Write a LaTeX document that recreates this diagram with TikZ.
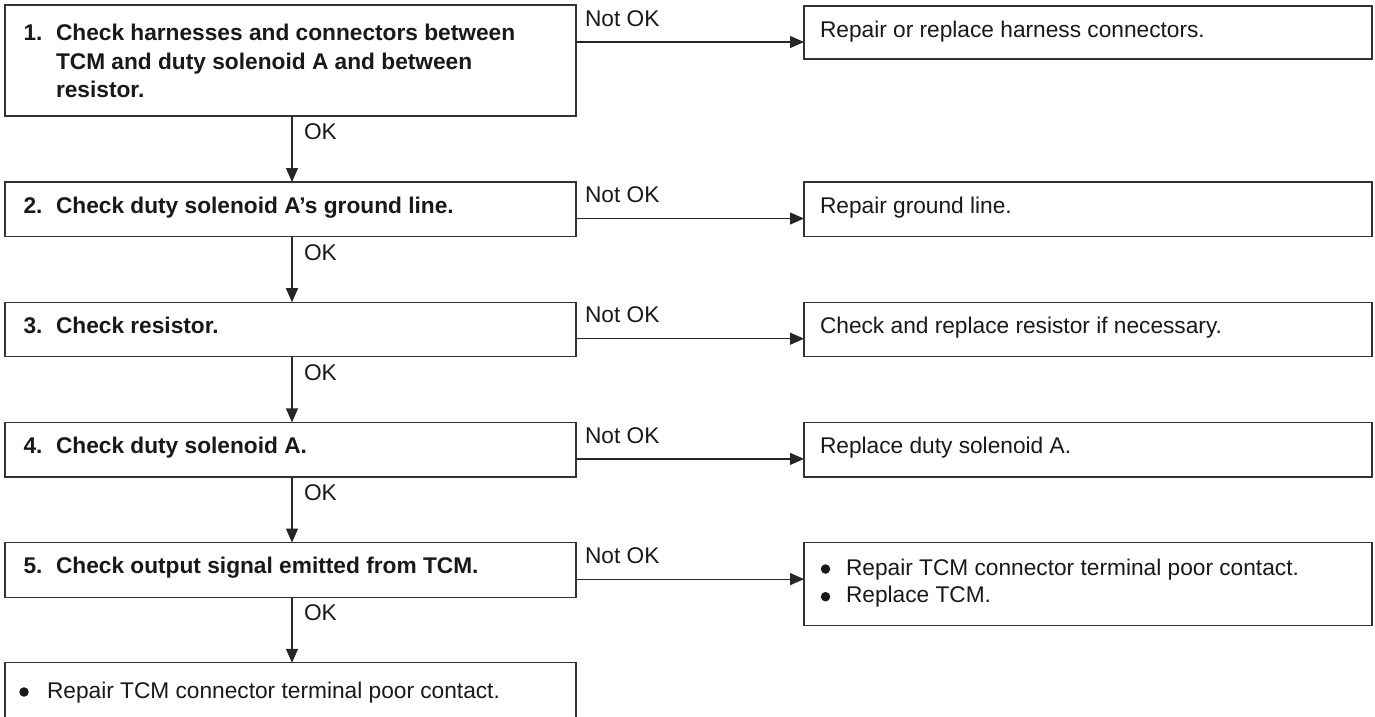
\documentclass[tikz,border=0pt]{standalone}
\usepackage{fontspec}
\setmainfont{Liberation Sans}
\usetikzlibrary{arrows.meta,calc}
\begin{document}
\begin{tikzpicture}[x=1pt,y=-1pt,
  box/.style={draw=black!80, line width=1.2pt, inner sep=0pt, outer sep=0pt},
  txt/.style={anchor=base west, inner sep=0pt, outer sep=0pt, text=black!90, font=\fontsize{22.7}{28}\selectfont},
  btxt/.style={anchor=base west, inner sep=0pt, outer sep=0pt, text=black!90, font=\fontsize{22.7}{28}\selectfont\bfseries},
  arr/.style={draw=black!85, line width=1.2pt, -{Triangle[length=14pt,width=12pt]}},
  dot/.style={circle, fill=black!90, inner sep=0pt, minimum size=9.5pt}]
\path[use as bounding box, fill=white] (0,0) rectangle (1375,716);

% left boxes
\node[box, minimum width=571pt, minimum height=111pt] (b1) at (290.5,60.5) {};
\node[box, minimum width=571pt, minimum height=54.5pt] (b2) at (290.5,209.25) {};
\node[box, minimum width=571pt, minimum height=54.5pt] (b3) at (290.5,329.45) {};
\node[box, minimum width=571pt, minimum height=54.5pt] (b4) at (290.5,449.65) {};
\node[box, minimum width=571pt, minimum height=54.5pt] (b5) at (290.5,569.85) {};
\node[box, minimum width=571pt, minimum height=100pt] (b6) at (290.5,712.8) {};

% right boxes
\node[box, minimum width=568pt, minimum height=53pt] (r1) at (1088,32.5) {};
\node[box, minimum width=568pt, minimum height=54.5pt] (r2) at (1088,209.25) {};
\node[box, minimum width=568pt, minimum height=54.5pt] (r3) at (1088,329.45) {};
\node[box, minimum width=568pt, minimum height=54.5pt] (r4) at (1088,449.65) {};
\node[box, minimum width=568pt, minimum height=83pt] (r5) at (1088,584.1) {};

% left texts
\node[btxt] (n1) at (23.5,40) {1.};
\node[btxt] (t1a) at (56,40) {Check harnesses and connectors between};
\node[btxt] (t1b) at (56,69) {TCM and duty solenoid A and between};
\node[btxt] (t1c) at (56,97) {resistor.};
\node[btxt] (n2) at (23.5,213.3) {2.};
\node[btxt] (t2) at (56,213.3) {Check duty solenoid A’s ground line.};
\node[btxt] (n3) at (23.5,333.5) {3.};
\node[btxt] (t3) at (56,333.5) {Check resistor.};
\node[btxt] (n4) at (23.5,453.7) {4.};
\node[btxt] (t4) at (56,453.7) {Check duty solenoid A.};
\node[btxt] (n5) at (23.5,573.9) {5.};
\node[btxt] (t5) at (56,573.9) {Check output signal emitted from TCM.};
\node[dot] (d6) at (24,692) {};
\node[txt] (t6) at (47,698) {Repair TCM connector terminal poor contact.};

% right texts
\node[txt] (u1) at (820,37.3) {Repair or replace harness connectors.};
\node[txt] (u2) at (820,213.3) {Repair ground line.};
\node[txt] (u3) at (820,333.5) {Check and replace resistor if necessary.};
\node[txt] (u4) at (820,453.7) {Replace duty solenoid A.};
\node[dot] (d5a) at (825.5,569) {};
\node[txt] (u5a) at (846,575) {Repair TCM connector terminal poor contact.};
\node[dot] (d5b) at (825.5,596.7) {};
\node[txt] (u5b) at (846,602.7) {Replace TCM.};

% Not OK connectors
\coordinate (s1) at ($(b1.north east)+(0,37)$);
\coordinate (s2) at ($(b2.north east)+(0,36.5)$);
\coordinate (s3) at ($(b3.north east)+(0,36.5)$);
\coordinate (s4) at ($(b4.north east)+(0,36.5)$);
\coordinate (s5) at ($(b5.north east)+(0,36.5)$);
\draw[arr] (s1) -- (s1 -| r1.west);
\draw[arr] (s2) -- (s2 -| r2.west);
\draw[arr] (s3) -- (s3 -| r3.west);
\draw[arr] (s4) -- (s4 -| r4.west);
\draw[arr] (s5) -- (s5 -| r5.west);
\node[txt] (no1) at (585,26.3) {Not OK};
\node[txt] (no2) at (585,202.7) {Not OK};
\node[txt] (no3) at (585,322.9) {Not OK};
\node[txt] (no4) at (585,443.1) {Not OK};
\node[txt] (no5) at (585,563.3) {Not OK};

% OK connectors
\draw[arr] ([xshift=1.5pt]b1.south) -- ([xshift=1.5pt]b2.north);
\draw[arr] ([xshift=1.5pt]b2.south) -- ([xshift=1.5pt]b3.north);
\draw[arr] ([xshift=1.5pt]b3.south) -- ([xshift=1.5pt]b4.north);
\draw[arr] ([xshift=1.5pt]b4.south) -- ([xshift=1.5pt]b5.north);
\draw[arr] ([xshift=1.5pt]b5.south) -- ([xshift=1.5pt]b6.north);
\node[txt] (ok1) at (304,139.5) {OK};
\node[txt] (ok2) at (304,260) {OK};
\node[txt] (ok3) at (304,380.2) {OK};
\node[txt] (ok4) at (304,500.4) {OK};
\node[txt] (ok5) at (304,620.6) {OK};
\end{tikzpicture}
\end{document}
